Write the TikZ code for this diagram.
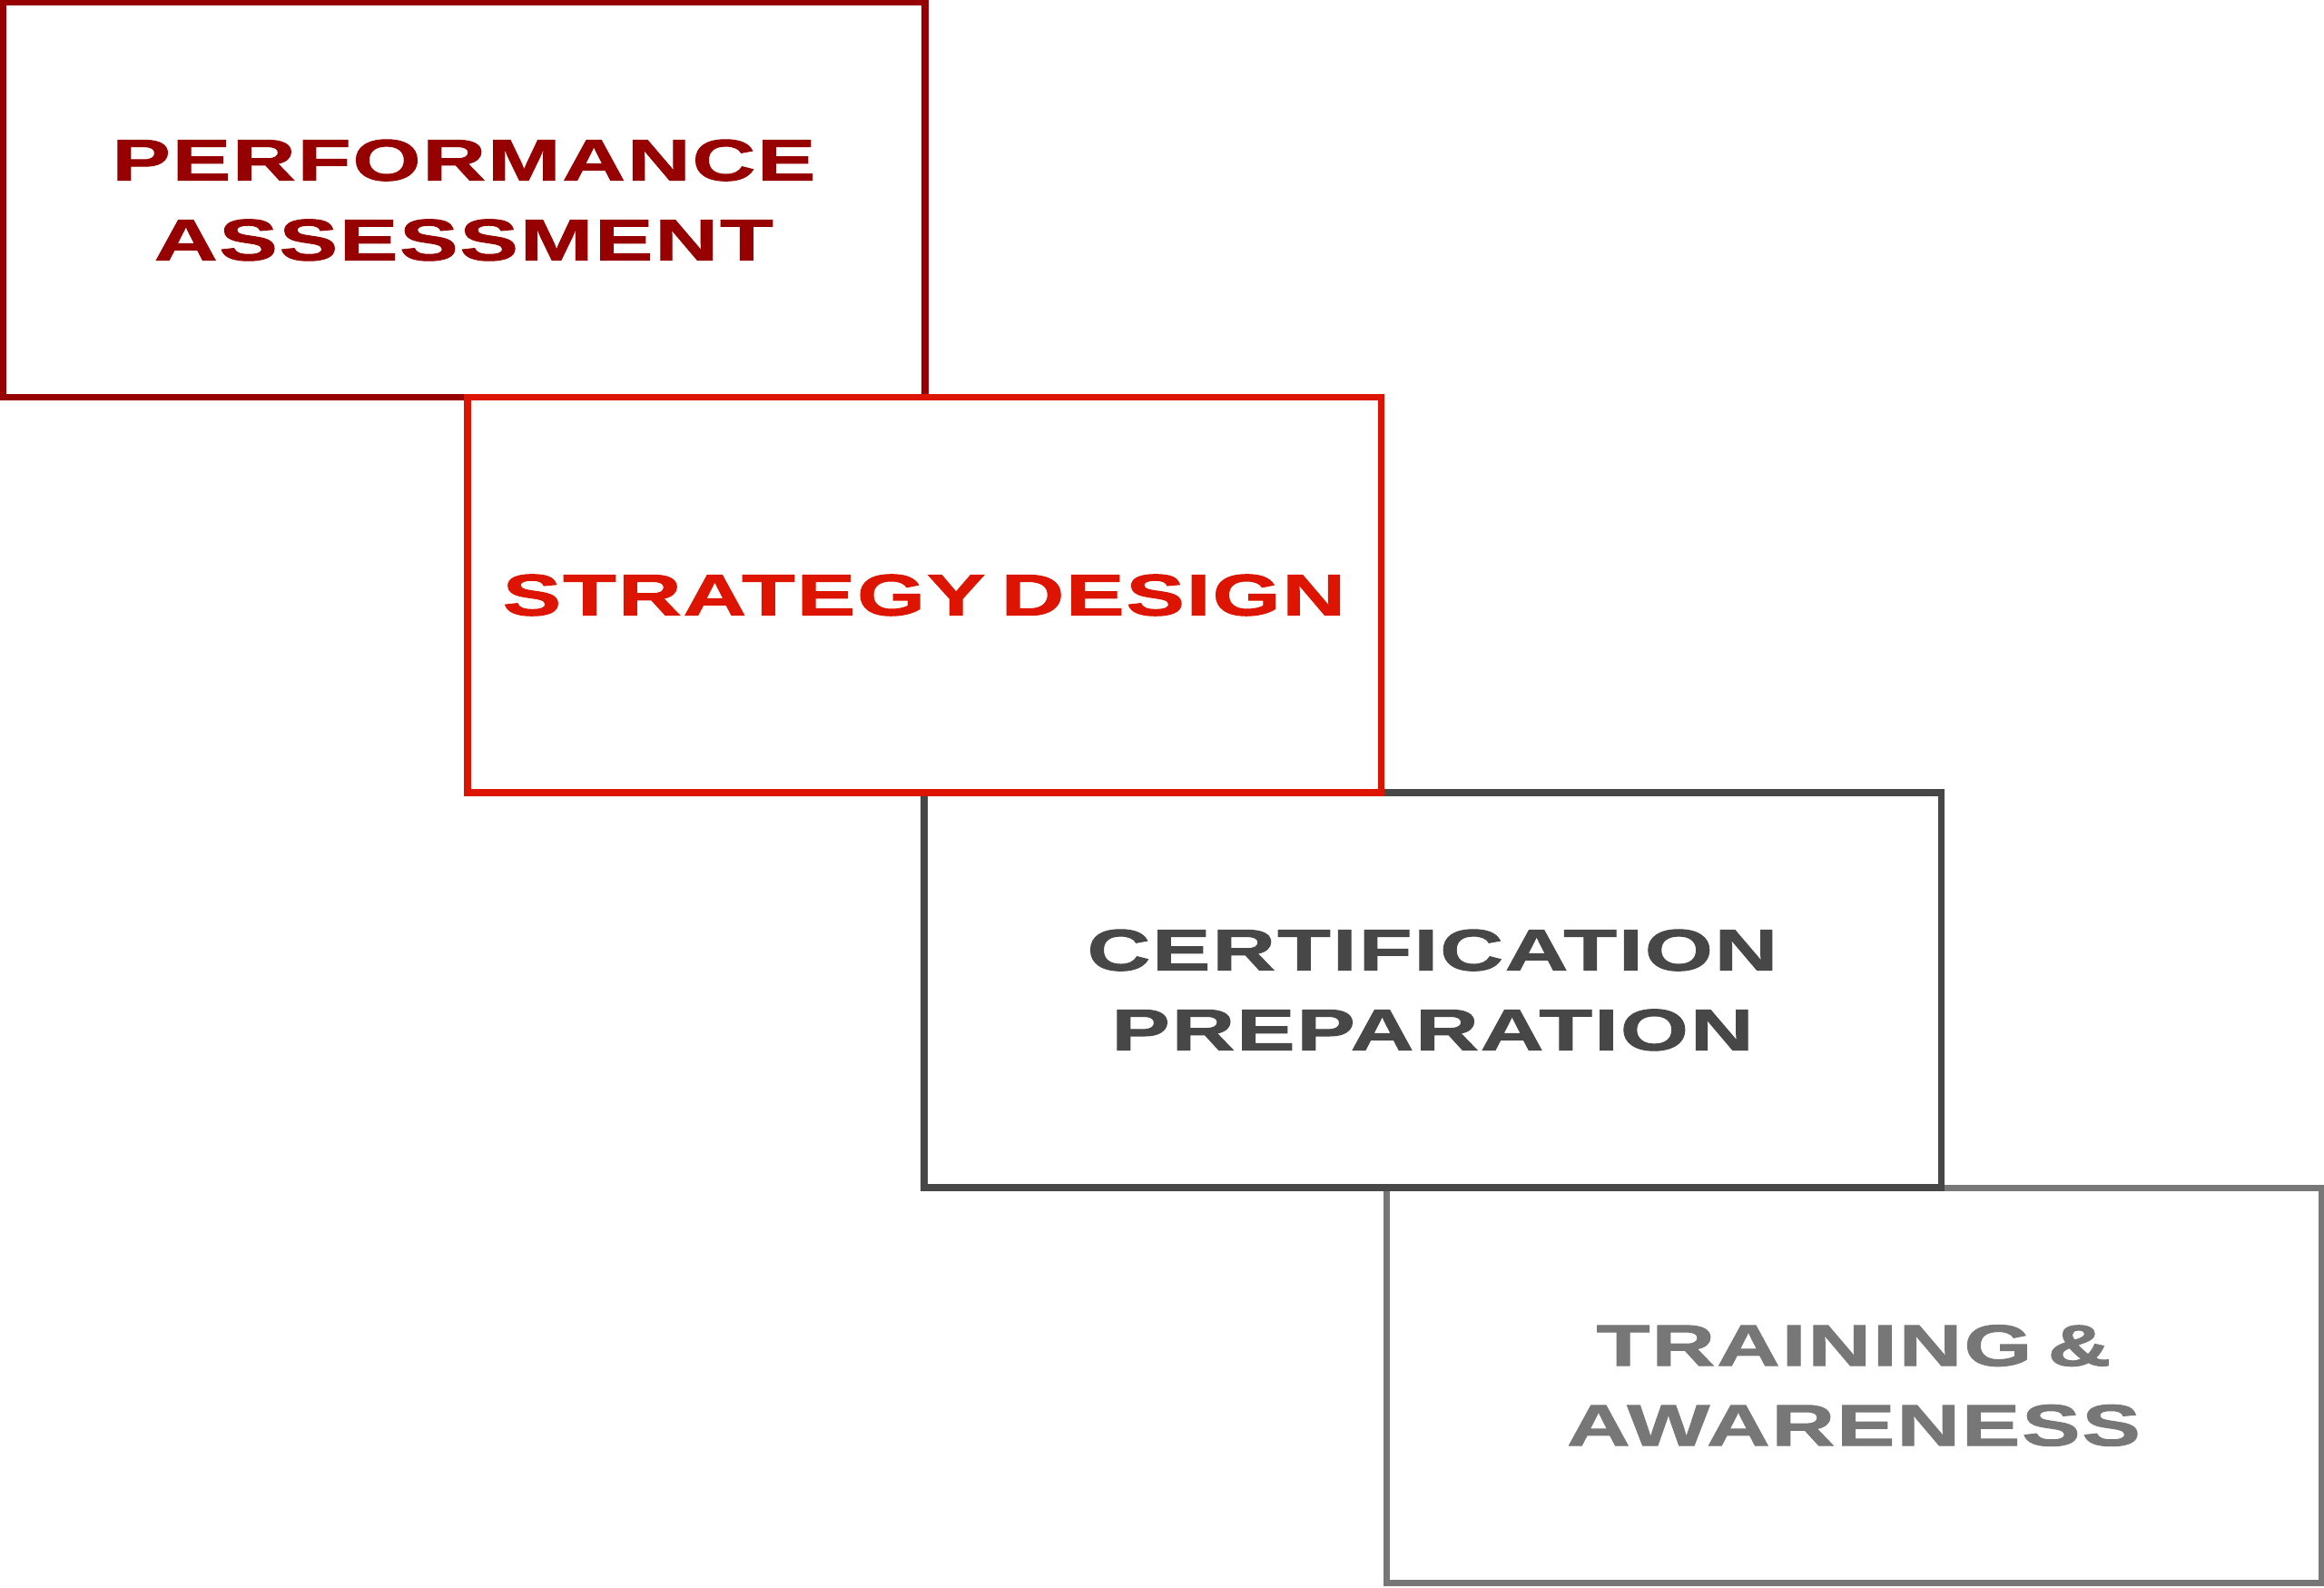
\documentclass[tikz,border=0pt]{standalone}
\usepackage{fontspec}
\usepackage{tikz}
\newfontfamily\stagefont[FakeStretch=1.5,LetterSpace=3,WordSpace=0.6,BoldFont={Liberation Sans Bold},BoldFeatures={FakeBold=1.6}]{Liberation Sans}
\definecolor{darkred}{RGB}{150,0,0}
\definecolor{brightred}{RGB}{221,21,0}
\definecolor{darkgrey}{RGB}{71,71,71}
\definecolor{midgrey}{RGB}{119,119,119}
\tikzset{
    stage/.style={draw,fill=none,line width=2pt,minimum height=4.35cm,inner sep=0pt,align=center,
        font=\stagefont\bfseries\fontsize{18.3}{25}\selectfont}
}

\begin{document}
\begin{tikzpicture}
            % Fondo
            \fill[white] (0,0) rectangle (25.6,17.49);
            \useasboundingbox (0,0) rectangle (25.6,17.49);

            % Etapas
            \node[stage,darkred,minimum width=10.16cm] (perf) at (5.11,15.285) {PERFORMANCE\\ASSESSMENT};
            \node[stage,midgrey,minimum width=10.30cm] (train) at (20.42,2.23) {TRAINING \&\\AWARENESS};
            \node[stage,darkgrey,minimum width=11.20cm] (cert) at (15.78,6.585) {CERTIFICATION\\PREPARATION};
            \node[stage,brightred,minimum width=10.06cm] (strat) at (10.18,10.935) {STRATEGY DESIGN};
        \end{tikzpicture}
\end{document}
